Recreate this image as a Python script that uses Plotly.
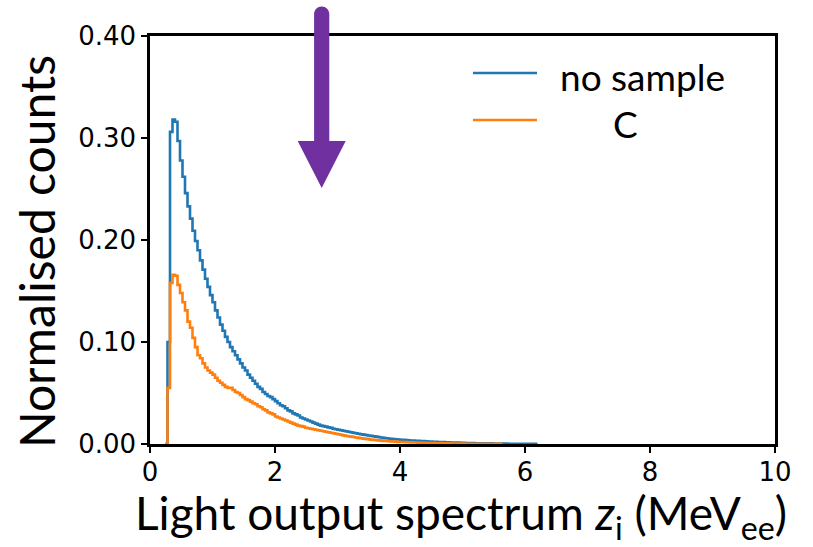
import plotly.graph_objects as go

# Histogram binning (MeVee): constant 0.04 bins starting at 0.24
bin_start = 0.24
bin_width = 0.04

# Normalised counts per bin, "no sample"
no_sample = [
    0.0, 0.100, 0.306, 0.318, 0.316, 0.297, 0.278, 0.262, 0.246, 0.233,
    0.221, 0.209, 0.199, 0.190, 0.180, 0.171, 0.162, 0.154, 0.146, 0.139,
    0.131, 0.124, 0.117, 0.111, 0.105, 0.100, 0.095, 0.091, 0.087, 0.083,
    0.079, 0.075, 0.072, 0.068, 0.065, 0.062, 0.059, 0.056, 0.054, 0.051,
    0.049, 0.047, 0.046, 0.044, 0.042, 0.040, 0.038, 0.037, 0.035, 0.033,
    0.032, 0.030, 0.029, 0.028, 0.026, 0.025, 0.024, 0.023, 0.022, 0.021,
    0.020, 0.019, 0.018, 0.0175, 0.017, 0.0163, 0.0158, 0.015, 0.0145, 0.014,
    0.0135, 0.013, 0.0125, 0.012, 0.0115, 0.011, 0.0105, 0.010, 0.0096, 0.0092,
    0.0088, 0.0084, 0.0080, 0.0076, 0.0072, 0.0068, 0.0064, 0.0060, 0.0057, 0.0054,
    0.0051, 0.0048, 0.0046, 0.0044, 0.0042, 0.0041, 0.0039, 0.0037, 0.0035, 0.0034,
    0.0032, 0.0031, 0.0029, 0.0028, 0.0026, 0.0025, 0.0024, 0.0022, 0.0021, 0.0020,
    0.0019, 0.0018, 0.0017, 0.0016, 0.0015, 0.0014, 0.0013, 0.0013, 0.0012, 0.0011,
    0.0010, 0.0010, 0.0009, 0.0009, 0.0008, 0.0008, 0.0007, 0.0007, 0.0006, 0.0006,
    0.0006, 0.0005, 0.0005, 0.0005, 0.0004, 0.0004, 0.0004, 0.0003, 0.0003, 0.0003,
    0.0003, 0.0002, 0.0002, 0.0002, 0.0002, 0.0001, 0.0001, 0.0001, 0.0001,
]

# Normalised counts per bin, carbon sample
carbon = [
    0.0, 0.055, 0.158, 0.166, 0.165, 0.156, 0.148, 0.139, 0.131, 0.120,
    0.114, 0.104, 0.095, 0.087, 0.084, 0.079, 0.075, 0.072, 0.070, 0.068,
    0.065, 0.062, 0.060, 0.058, 0.056, 0.055, 0.055, 0.053, 0.051, 0.050,
    0.048, 0.046, 0.044, 0.043, 0.0415, 0.040, 0.039, 0.037, 0.036, 0.034,
    0.033, 0.031, 0.030, 0.029, 0.027, 0.026, 0.025, 0.024, 0.023, 0.022,
    0.021, 0.020, 0.019, 0.018, 0.0175, 0.017, 0.016, 0.0155, 0.015, 0.0145,
    0.014, 0.0135, 0.013, 0.0125, 0.012, 0.0115, 0.011, 0.0105, 0.010, 0.0095,
    0.009, 0.0085, 0.008, 0.0076, 0.0072, 0.0068, 0.0064, 0.0060, 0.0056, 0.0053,
    0.0050, 0.0046, 0.0043, 0.0040, 0.0038, 0.0036, 0.0033, 0.0031, 0.0029, 0.0027,
    0.0026, 0.0024, 0.0023, 0.0021, 0.0020, 0.0019, 0.0018, 0.0017, 0.0016, 0.0015,
    0.0014, 0.0013, 0.0012, 0.0012, 0.0011, 0.0010, 0.0010, 0.0009, 0.0008, 0.0008,
    0.0007, 0.0007, 0.0006, 0.0006, 0.0005, 0.0005, 0.0005, 0.0004, 0.0004, 0.0004,
    0.0003, 0.0003, 0.0003, 0.0003, 0.0002, 0.0002, 0.0002, 0.0002, 0.0002, 0.0001,
    0.0001, 0.0001, 0.0001, 0.0001, 0.0001,
]

series_names = ["no sample", "C"]
series_colors = ["#1f77b4", "#ff7f0e"]

x_ticks = [0, 2, 4, 6, 8, 10]
y_ticks = [0.0, 0.1, 0.2, 0.3, 0.4]

TITLE_FONT = "Lato"
TICK_FONT = "DejaVu Sans"

W, H = 813, 547
L, R, T, B = 150, 38, 36, 103
PW, PH = W - L - R, H - T - B


def px(xp):
    return (xp - L) / PW


def py(yp):
    return (H - B - yp) / PH


def step_xy(vals):
    edges = [round(bin_start + i * bin_width, 4) for i in range(len(vals) + 1)]
    return edges, list(vals) + [vals[-1]]


fig = go.Figure()
for vals, name, col in zip([no_sample, carbon], series_names, series_colors):
    xs, ys = step_xy(vals)
    fig.add_trace(go.Scatter(x=xs, y=ys, mode="lines", name=name,
                             line=dict(color=col, width=2.6, shape="hv")))

axis_common = dict(showline=True, linecolor="black", linewidth=2.5, mirror=True,
                   ticks="outside", ticklen=6, tickwidth=2, tickcolor="black",
                   showgrid=False, zeroline=False,
                   tickfont=dict(family=TICK_FONT, size=26, color="black"))

fig.update_xaxes(range=[0, 10], tickvals=x_ticks, ticklabelstandoff=-3, **axis_common)
fig.update_yaxes(range=[0, 0.4], tickvals=y_ticks, tickformat=".2f", **axis_common)

shapes = []
annotations = []

# Legend drawn by hand: line samples with the labels beside them
leg_rows = [(73, "no sample", 558, "left"), (120, "C", 625, "center")]
for (yrow, label, xt, anchor), col in zip(leg_rows, series_colors):
    shapes.append(dict(type="line", xref="paper", yref="paper",
                       x0=px(473), x1=px(537), y0=py(yrow), y1=py(yrow),
                       line=dict(color=col, width=2.6)))
    annotations.append(dict(text=label, xref="paper", yref="paper",
                            x=px(xt), y=py(yrow + 3), xanchor=anchor, yanchor="middle",
                            showarrow=False,
                            font=dict(family=TITLE_FONT, size=37, color="black")))

# Purple pointer arrow: rounded shaft plus triangular head
ax_c, shaft_hw, top, head_top, tip, head_hw = 321.7, 7.6, 6.5, 141, 188, 24
r = shaft_hw
arrow_pts = (
    f"M {px(ax_c - shaft_hw)},{py(top + r)} "
    f"C {px(ax_c - shaft_hw)},{py(top + r * 0.45)} {px(ax_c - r * 0.55)},{py(top)} {px(ax_c)},{py(top)} "
    f"C {px(ax_c + r * 0.55)},{py(top)} {px(ax_c + shaft_hw)},{py(top + r * 0.45)} {px(ax_c + shaft_hw)},{py(top + r)} "
    f"L {px(ax_c + shaft_hw)},{py(head_top)} L {px(ax_c + head_hw)},{py(head_top)} "
    f"L {px(ax_c)},{py(tip)} L {px(ax_c - head_hw)},{py(head_top)} "
    f"L {px(ax_c - shaft_hw)},{py(head_top)} Z"
)
shapes.append(dict(type="path", xref="paper", yref="paper", path=arrow_pts,
                   fillcolor="#7030a0", line=dict(width=0), layer="above"))

# Axis titles
annotations.append(dict(
    text="Light output spectrum <i>z</i><sub>i</sub> (MeV<sub>ee</sub>)",
    xref="paper", yref="paper", x=px(461), y=py(516), xanchor="center", yanchor="middle",
    showarrow=False, font=dict(family=TITLE_FONT, size=46, color="black")))
annotations.append(dict(
    text="Normalised counts", textangle=-90,
    xref="paper", yref="paper", x=px(36), y=py(252), xanchor="center", yanchor="middle",
    showarrow=False, font=dict(family=TITLE_FONT, size=48, color="black")))

fig.update_layout(width=W, height=H, margin=dict(l=L, r=R, t=T, b=B),
                  plot_bgcolor="white", paper_bgcolor="white", showlegend=False,
                  shapes=shapes, annotations=annotations)

fig.write_html("out.html")
